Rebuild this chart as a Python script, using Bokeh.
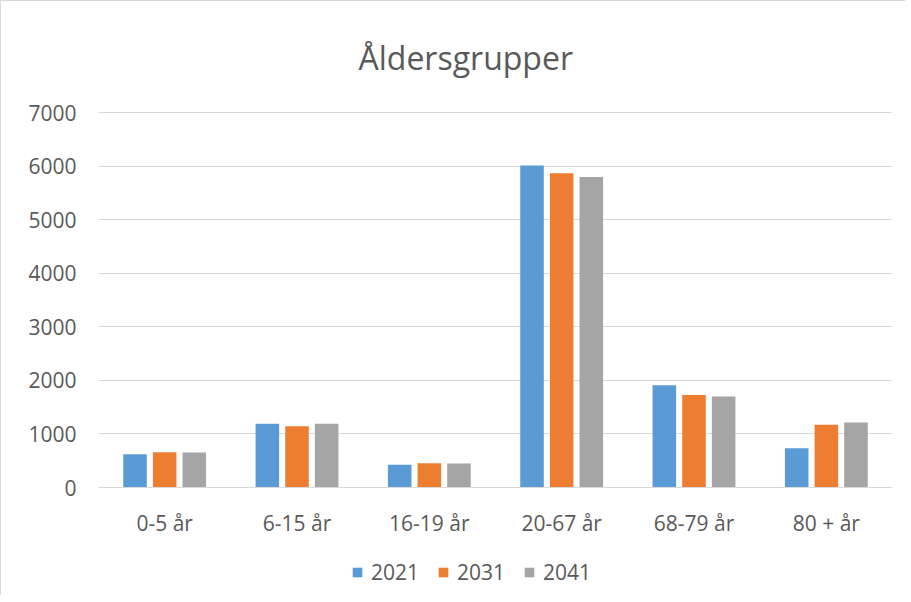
from bokeh.plotting import figure
from bokeh.models import ColumnDataSource, FactorRange, Range1d, Legend, LegendItem, Title
from bokeh.layouts import column
from bokeh.transform import dodge
from bokeh.embed import file_html
from bokeh.resources import INLINE

categories = ["0-5 år", "6-15 år", "16-19 år", "20-67 år", "68-79 år", "80 + år"]
years = ["2021", "2031", "2041"]
v2021 = [620, 1190, 425, 6010, 1910, 735]
v2031 = [660, 1145, 455, 5865, 1725, 1170]
v2041 = [655, 1190, 450, 5795, 1700, 1215]
y_ticks = [0, 1000, 2000, 3000, 4000, 5000, 6000, 7000]
colors = ["#5B9BD5", "#ED7D31", "#A5A5A5"]

src = ColumnDataSource(dict(cat=categories, y2021=v2021, y2031=v2031, y2041=v2041))

FONT = "Open Sans"
TXT = "#595959"
BORDER = "1px solid #d9d9d9"

p = figure(x_range=FactorRange(*categories), y_range=Range1d(0, 7020),
           width=905, height=545, output_backend="svg", toolbar_location=None,
           min_border_left=97, min_border_right=14, min_border_top=110, min_border_bottom=59)
p.title = Title(text="Åldersgrupper", align="left", text_font=FONT, text_font_size="32px",
                text_font_style="normal", text_color=TXT, offset=260, standoff=65)
p.styles = {"border-left": BORDER, "border-top": BORDER}

offsets = [-0.224, 0.0, 0.224]
for yr, col, off in zip(years, colors, offsets):
    p.vbar(x=dodge("cat", off, range=p.x_range), top="y" + yr, width=0.178,
           source=src, fill_color=col, line_color=None)

p.outline_line_color = None
p.background_fill_color = "white"
p.border_fill_color = "white"

p.xgrid.grid_line_color = None
p.ygrid.grid_line_color = "#d9d9d9"
p.ygrid.grid_line_width = 1
p.yaxis.ticker = y_ticks

p.yaxis.axis_line_color = None
p.yaxis.major_tick_line_color = None
p.yaxis.minor_tick_line_color = None
p.yaxis.major_tick_out = 0
p.yaxis.major_label_text_font = FONT
p.yaxis.major_label_text_font_size = "21px"
p.yaxis.major_label_text_color = TXT
p.yaxis.major_label_standoff = 22

p.xaxis.axis_line_color = "#d9d9d9"
p.xaxis.major_tick_line_color = None
p.xaxis.minor_tick_line_color = None
p.xaxis.major_tick_out = 0
p.xaxis.major_label_text_font = FONT
p.xaxis.major_label_text_font_size = "21px"
p.xaxis.major_label_text_color = TXT
p.xaxis.major_label_standoff = 21

# Legend strip below the chart (legend-only renderers, kept outside the visible range)
lg = figure(width=905, height=50, output_backend="svg", toolbar_location=None,
            x_range=Range1d(0, 1), y_range=Range1d(0, 1),
            x_axis_location=None, y_axis_location=None,
            min_border_left=0, min_border_right=0, min_border_top=0, min_border_bottom=0)
lg.styles = {"border-left": BORDER}
lg.grid.visible = False
lg.outline_line_color = None
lg.background_fill_color = "white"
lg.border_fill_color = "white"
dummies = [lg.vbar(x=[5], top=[0], width=0.1, fill_color=c, line_color=None) for c in colors]
legend = Legend(items=[LegendItem(label=yr, renderers=[r]) for yr, r in zip(years, dummies)],
                orientation="horizontal", location=(253, 9),
                label_text_font=FONT, label_text_font_size="21px", label_text_color=TXT,
                glyph_width=12, glyph_height=12, spacing=18, label_standoff=8,
                border_line_color=None, background_fill_alpha=0, padding=0, margin=0)
lg.add_layout(legend, "center")

layout = column(p, lg, spacing=0)
open("out.html", "w").write(file_html(layout, INLINE))
